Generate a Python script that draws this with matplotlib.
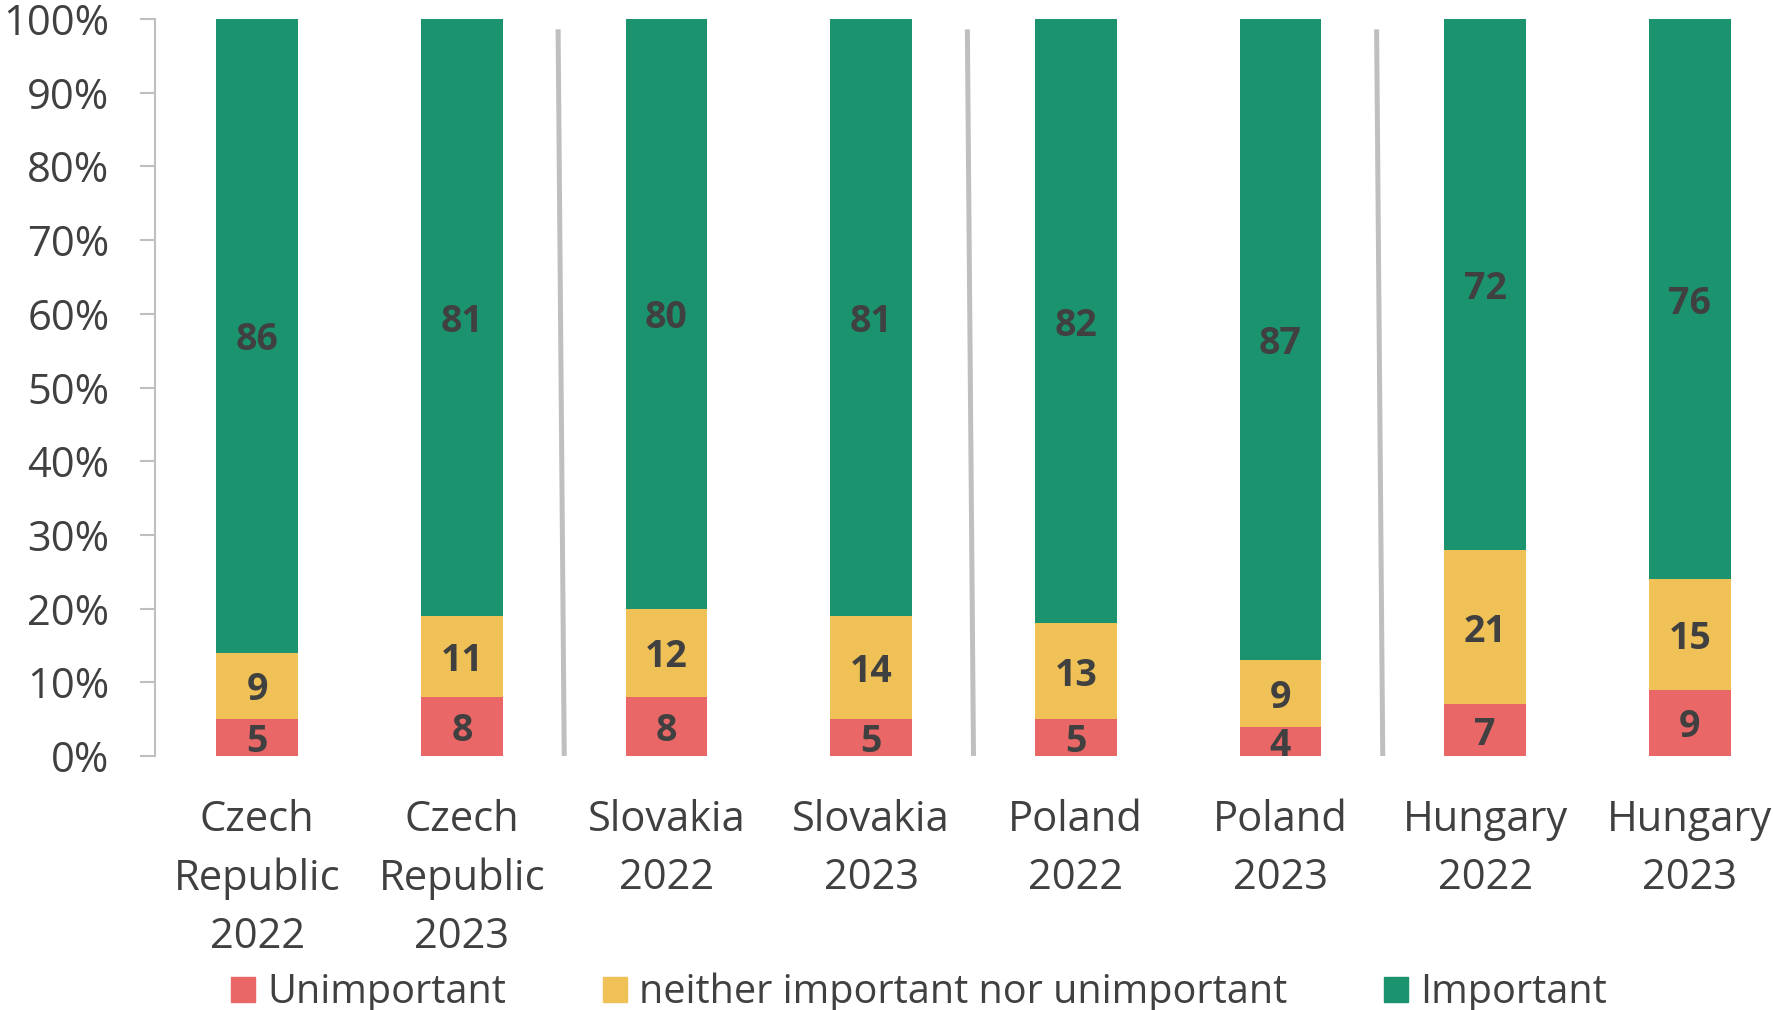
import matplotlib
matplotlib.use("Agg")
import matplotlib.pyplot as plt
from matplotlib.patches import Patch
import numpy as np

# ---------------------------------------------------------------------------
# Data
# ---------------------------------------------------------------------------
categories = [
    "Czech\nRepublic\n2022", "Czech\nRepublic\n2023",
    "Slovakia\n2022", "Slovakia\n2023",
    "Poland\n2022", "Poland\n2023",
    "Hungary\n2022", "Hungary\n2023",
]
unimportant = [5, 8, 8, 5, 5, 4, 7, 9]
neither = [9, 11, 12, 14, 13, 9, 21, 15]
important = [86, 81, 80, 81, 82, 87, 72, 76]
series_names = ["Unimportant", "neither important nor unimportant", "Important"]
yticks = list(range(0, 101, 10))

# ---------------------------------------------------------------------------
# Style
# ---------------------------------------------------------------------------
C_RED = "#E96766"
C_YEL = "#EFC156"
C_GRN = "#1B936E"
C_TXT = "#404040"
C_GRID = "#BFBFBF"
FONT = "Open Sans"

plt.rcParams["font.family"] = [FONT, "DejaVu Sans"]

fig = plt.figure(figsize=(17.73, 10.10), dpi=100)
ax = fig.add_axes([155 / 1773, 254 / 1010, 1637 / 1773, 737 / 1010])

x = np.arange(len(categories))
w = 0.4
series = [unimportant, neither, important]
colors = [C_RED, C_YEL, C_GRN]
bottom = np.zeros(len(categories))
for vals, col in zip(series, colors):
    vals = np.asarray(vals, dtype=float)
    ax.bar(x, vals, w, bottom=bottom, color=col, linewidth=0, zorder=2)
    for xi, b, v in zip(x, bottom, vals):
        ax.text(xi, b + v / 2, f"{int(v)}", ha="center", va="center_baseline",
                fontsize=27, fontweight="bold", color=C_TXT, zorder=3)
    bottom += vals

# separators between country pairs (slightly slanted, as in source)
for k in (1.5, 3.5, 5.5):
    ax.plot([k - 0.03, k], [98.6, 0], color=C_GRID, lw=3.6,
            solid_capstyle="butt", zorder=1)

ax.set_xlim(-0.5, 7.5)
ax.set_ylim(0, 100)
ax.set_yticks(yticks)
ax.set_yticklabels([f"{t}%" for t in yticks])
ax.set_xticks(x)
ax.set_xticklabels(categories, linespacing=1.5)

for s in ("top", "right", "bottom"):
    ax.spines[s].set_visible(False)
ax.spines["left"].set_color(C_GRID)
ax.spines["left"].set_linewidth(1.5)
ax.tick_params(axis="y", length=10.8, width=1.5, color=C_GRID, pad=22,
               labelsize=30, labelcolor=C_TXT)
ax.tick_params(axis="x", length=0, pad=31, labelsize=30, labelcolor=C_TXT)

handles = [Patch(color=c) for c in colors]
fig.legend(handles, series_names, loc="center left",
           bbox_to_anchor=(231 / 1773, 17 / 1010), ncol=3, frameon=False,
           fontsize=28.5, labelcolor=C_TXT, handlelength=0.6, handleheight=0.6,
           handletextpad=0.31, columnspacing=2.45, borderpad=0,
           borderaxespad=0)

fig.savefig("out.png", dpi=100)
